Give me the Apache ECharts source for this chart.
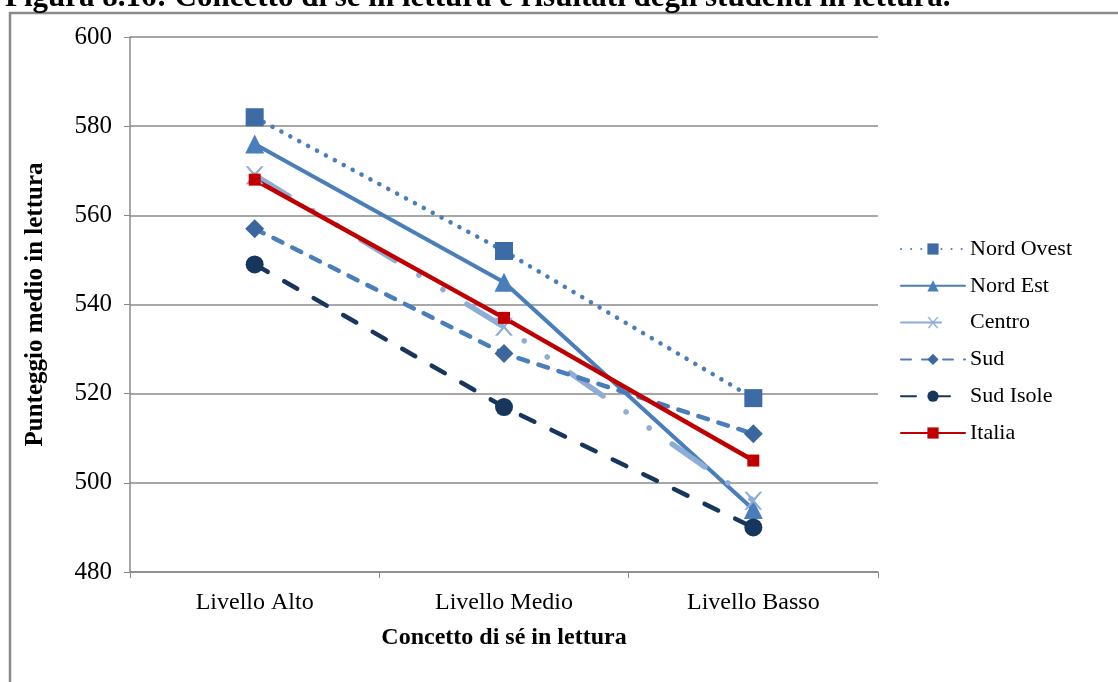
<!DOCTYPE html>
<html><head><meta charset="utf-8">
<script src="https://cdn.jsdelivr.net/npm/echarts@6/dist/echarts.min.js"></script>
<style>html,body{margin:0;padding:0;background:#fff;}#c{width:1118px;height:682px;}</style>
</head><body><div id="c"></div>
<script>
const categories = ["Livello Alto", "Livello Medio", "Livello Basso"];
const nordOvest = [582, 552, 519];
const nordEst = [576, 545, 494];
const centro = [569, 535, 496];
const sud = [557, 529, 511];
const sudIsole = [549, 517, 490];
const italia = [568, 537, 505];
const yTicks = [480, 500, 520, 540, 560, 580, 600];

const serif = "'Liberation Serif', 'DejaVu Serif', serif";
const chart = echarts.init(document.getElementById('c'));
function s(name, data, color, mColor, type, symbol, size, width) {
  return {
    name, type: 'line', data, symbol, symbolSize: size,
    lineStyle: { color, width, type, cap: 'round', join: 'round' },
    itemStyle: { color: mColor, borderWidth: 0 },
    emphasis: { disabled: true }
  };
}
chart.setOption({
  animation: false,
  title: {
    text: "Figura 8.16: Concetto di sé in lettura e risultati degli studenti in lettura.",
    left: 0, top: -23,
    textStyle: { fontFamily: serif, fontWeight: 'bold', fontSize: 31, color: '#000' }
  },
  graphic: [{
    type: 'rect', shape: { x: 10, y: 13, width: 1120, height: 700 },
    style: { fill: 'none', stroke: '#8a8a8a', lineWidth: 2.5 }, silent: true, z: -1
  }],
  grid: { left: 130, right: 240, top: 37, bottom: 110 },
  legend: {
    orient: 'vertical', left: 895, top: 233, itemGap: 14.8, itemWidth: 64, itemHeight: 14,
    textStyle: { fontFamily: serif, fontSize: 22, color: '#000' },
    data: ['Nord Ovest', 'Nord Est', 'Centro', 'Sud', 'Sud Isole', 'Italia']
  },
  xAxis: {
    type: 'category', data: categories, boundaryGap: true,
    name: 'Concetto di sé in lettura', nameLocation: 'middle', nameGap: 54,
    nameTextStyle: { fontFamily: serif, fontWeight: 'bold', fontSize: 24, color: '#000' },
    axisLine: { lineStyle: { color: '#8a8a8a', width: 1.5 } },
    axisTick: { show: true, length: 6, lineStyle: { color: '#8a8a8a' } },
    axisLabel: { fontFamily: serif, fontSize: 24, color: '#000', margin: 19 }
  },
  yAxis: {
    type: 'value', min: 480, max: 600, interval: 20,
    name: 'Punteggio medio in lettura', nameLocation: 'middle', nameGap: 82,
    nameTextStyle: { fontFamily: serif, fontWeight: 'bold', fontSize: 25, color: '#000' },
    axisLine: { show: true, lineStyle: { color: '#8a8a8a', width: 1.5 } },
    axisTick: { show: true, length: 6, lineStyle: { color: '#8a8a8a' } },
    splitLine: { lineStyle: { color: '#8a8a8a', width: 1.5 } },
    axisLabel: { fontFamily: serif, fontSize: 25, color: '#000', margin: 18,
      formatter: v => yTicks.includes(v) ? String(v) : '' }
  },
  series: [
    s('Nord Ovest', nordOvest, '#4A7EBB', '#3C6BA5', [0.1, 10], 'rect', 18, 4.5),
    s('Nord Est', nordEst, '#4A7EBB', '#4A7EBB', 'solid', 'triangle', 19, 4),
    s('Centro', centro, '#8EADD6', '#8EADD6', [40, 28, 0.1, 28, 0.1, 28], 'path://M0,0 L1.5,0 L5,4 L8.5,0 L10,0 L5.8,5 L10,10 L8.5,10 L5,6 L1.5,10 L0,10 L4.2,5 Z', 18, 5.5),
    s('Sud', sud, '#4A7EBB', '#3C679E', [10, 11], 'diamond', 19, 4.5),
    s('Sud Isole', sudIsole, '#17365D', '#17365D', [15, 19], 'circle', 18, 4.5),
    s('Italia', italia, '#C00000', '#C00000', 'solid', 'rect', 12, 4.5)
  ]
});
</script></body></html>
